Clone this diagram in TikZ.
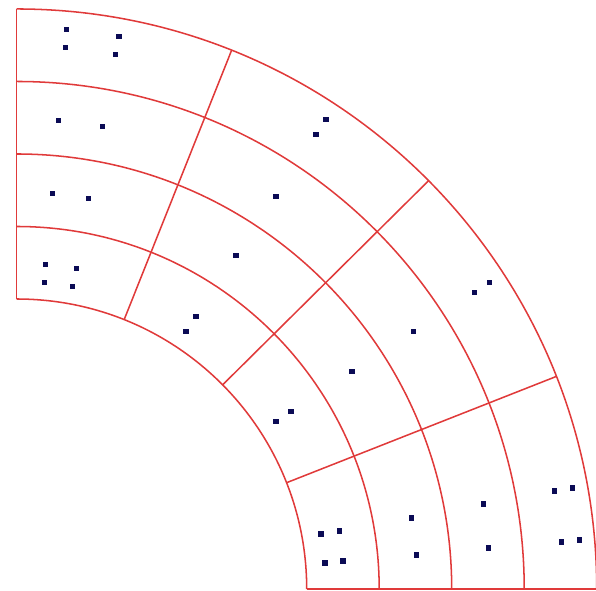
\documentclass[tikz,border=0pt]{standalone}
\usepackage{xcolor}
\usepackage{tikz}
\definecolor{meshred}{HTML}{E03A3A}
\definecolor{ptnavy}{HTML}{0B0B55}

\begin{document}
\begin{tikzpicture}[meshline/.style={meshred, line width=0.6pt},
  gpt/.style={fill=ptnavy}]
\useasboundingbox (-0.230,-0.014) rectangle (7.990,8.124);
% rings
\foreach \r in {4,5,6,7,8}
  \draw[meshline] (0:\r) arc (0:90:\r);
% radial cuts
\foreach \a in {0,21.5,44.75,68.25,90}
  \draw[meshline] (\a:4) -- (\a:8);
% integration points
\foreach \x/\y in {0.691/7.721, 1.409/7.624, 0.677/7.472, 1.367/7.376,
    0.580/6.464, 1.188/6.381, 0.497/5.456, 0.994/5.387,
    0.401/4.475, 0.829/4.420, 0.387/4.227, 0.773/4.171,
    4.268/6.478, 4.130/6.271, 3.577/5.414, 3.025/4.599,
    2.472/3.757, 2.334/3.550,
    6.519/4.227, 6.312/4.088, 5.470/3.550, 4.627/2.997,
    3.785/2.445, 3.577/2.307,
    4.199/0.760, 4.448/0.801, 4.254/0.359, 4.503/0.387,
    5.442/0.981, 5.511/0.470, 6.436/1.174, 6.506/0.566,
    7.417/1.354, 7.666/1.395, 7.514/0.649, 7.762/0.677}
  \fill[gpt] (\x-0.037,\y-0.037) rectangle ++(0.074,0.074);
\end{tikzpicture}
\end{document}
